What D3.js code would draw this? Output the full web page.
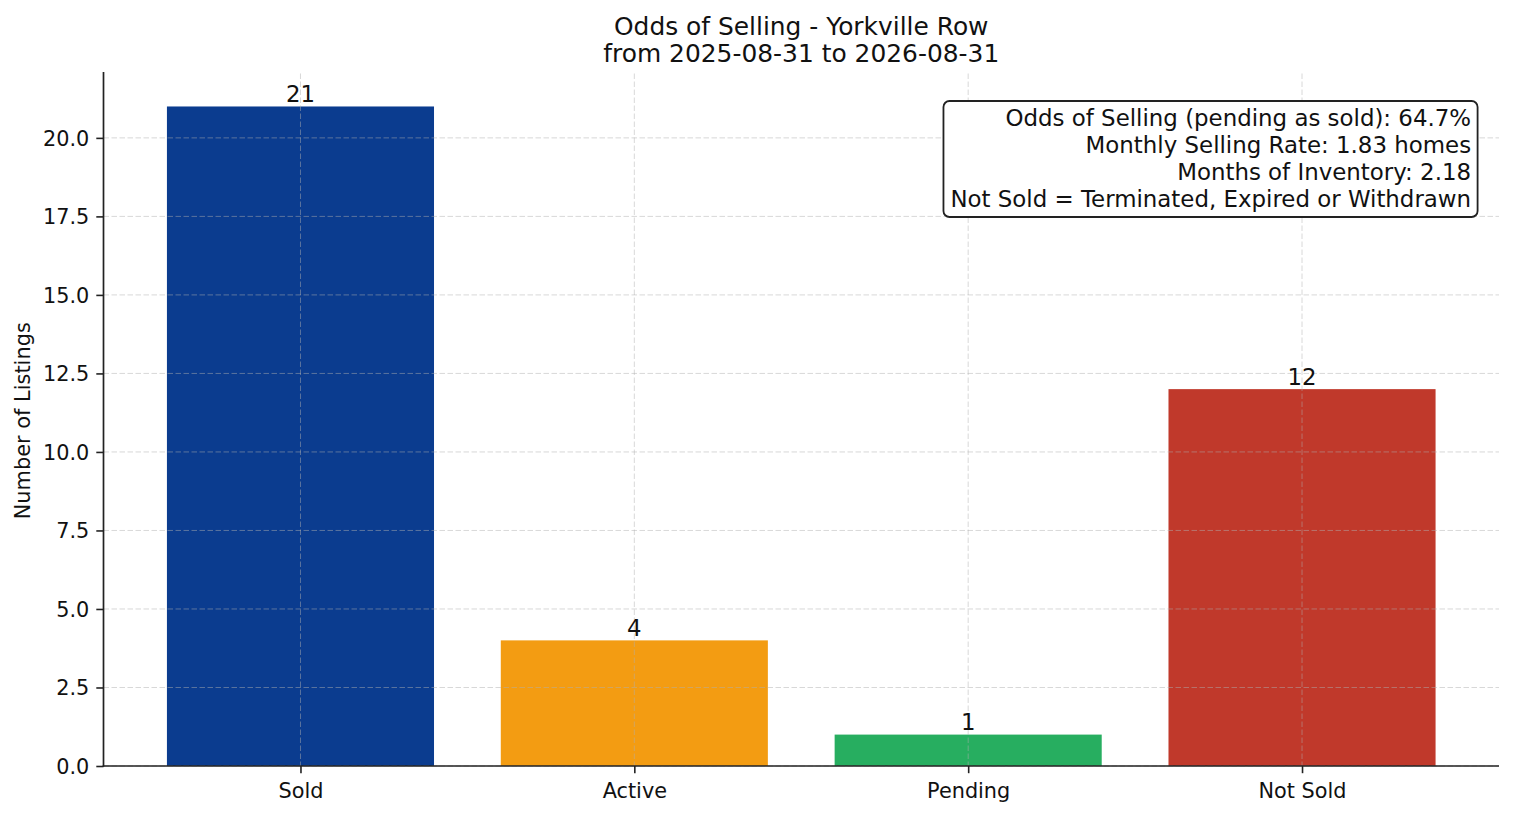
<!DOCTYPE html>
<html>
<head>
<meta charset="utf-8">
<script src="https://cdn.jsdelivr.net/npm/d3@7"></script>
<style>
  html, body { margin: 0; padding: 0; background: #fff; }
  svg { display: block; font-family: "DejaVu Sans", sans-serif; }
</style>
</head>
<body>
<svg id="chart" width="1514" height="816"></svg>
<script>
const categories = ["Sold", "Active", "Pending", "Not Sold"];
const counts = [21, 4, 1, 12];
const barColors = ["#0b3c8f", "#f39c12", "#27ae60", "#c0392b"];
const yTicks = [0, 2.5, 5, 7.5, 10, 12.5, 15, 17.5, 20];
const titleLines = ["Odds of Selling - Yorkville Row", "from 2025-08-31 to 2026-08-31"];
const yLabel = "Number of Listings";
const infoLines = [
  "Odds of Selling (pending as sold): 64.7%",
  "Monthly Selling Rate: 1.83 homes",
  "Months of Inventory: 2.18",
  "Not Sold = Terminated, Expired or Withdrawn"
];

(function () {
const svg = d3.select("#chart");
const pL = 103.5, pR = 1499, pT = 73.5, pB = 766;
const barW = 0.8;

const x = d3.scaleLinear().domain([-0.59, 3.59]).range([pL, pR]);
const y = d3.scaleLinear().domain([0, 22.05]).range([pB, pT]);

// bars
svg.append("g").selectAll("rect").data(counts).join("rect")
  .attr("x", (d, i) => x(i - barW / 2))
  .attr("width", (d, i) => x(i + barW / 2) - x(i - barW / 2))
  .attr("y", d => y(d))
  .attr("height", d => y(0) - y(d))
  .attr("fill", (d, i) => barColors[i]);

// grid (drawn above bars)
const grid = svg.append("g").attr("stroke", "#b0b0b0").attr("stroke-opacity", 0.55)
  .attr("stroke-width", 0.9).attr("stroke-dasharray", "5.5,2.5").attr("fill", "none");
grid.selectAll("line.h").data(yTicks).join("line").attr("class", "h")
  .attr("x1", pL).attr("x2", pR)
  .attr("y1", d => y(d)).attr("y2", d => y(d));
grid.selectAll("line.v").data(categories).join("line").attr("class", "v")
  .attr("x1", (d, i) => x(i)).attr("x2", (d, i) => x(i))
  .attr("y1", pT).attr("y2", pB);

// axes
const yAxis = d3.axisLeft(y).tickValues(yTicks).tickFormat(d3.format(".1f"))
  .tickSize(7.2).tickPadding(7);
const gy = svg.append("g").attr("transform", `translate(${pL},0)`).call(yAxis);
const xAxis = d3.axisBottom(x).tickValues(d3.range(categories.length))
  .tickFormat(i => categories[i]).tickSize(7.2).tickPadding(9);
const gx = svg.append("g").attr("transform", `translate(0,${pB})`).call(xAxis);

[gx, gy].forEach(g => {
  g.select(".domain").remove();
  g.selectAll(".tick line").attr("stroke", "#222").attr("stroke-width", 1.6);
  g.selectAll(".tick text").attr("fill", "#111").style("font-size", "20.8px")
    .style("font-family", "DejaVu Sans");
});
gy.selectAll(".tick text").attr("dy", "0.36em");
gx.selectAll(".tick text").attr("dy", "0.76em");

// spines
svg.append("line").attr("x1", pL).attr("x2", pL).attr("y1", pT - 1.5).attr("y2", pB + 0.8)
  .attr("stroke", "#222").attr("stroke-width", 1.7);
svg.append("line").attr("x1", pL - 0.8).attr("x2", pR).attr("y1", pB).attr("y2", pB)
  .attr("stroke", "#222").attr("stroke-width", 1.7);

// value labels
svg.append("g").selectAll("text").data(counts).join("text")
  .attr("x", (d, i) => x(i))
  .attr("y", d => y(d) - 4.5)
  .attr("text-anchor", "middle")
  .attr("fill", "#111")
  .style("font-size", "22.8px")
  .text(d => d);

// title
svg.append("g").selectAll("text").data(titleLines).join("text")
  .attr("x", (pL + pR) / 2)
  .attr("y", (d, i) => 35 + i * 26.8)
  .attr("text-anchor", "middle")
  .attr("fill", "#111")
  .style("font-size", "24.9px")
  .text(d => d);

// y label
svg.append("text")
  .attr("transform", `translate(30,${(pT + pB) / 2 + 1}) rotate(-90)`)
  .attr("text-anchor", "middle")
  .attr("fill", "#111")
  .style("font-size", "20.9px")
  .text(yLabel);

// info box
const info = svg.append("g");
const boxRect = info.append("rect");
const textX = pL + 0.98 * (pR - pL);
info.append("g").selectAll("text").data(infoLines).join("text")
  .attr("x", textX)
  .attr("y", (d, i) => 126 + i * 26.9)
  .attr("text-anchor", "end")
  .attr("fill", "#111")
  .style("font-size", "22.9px")
  .text(d => d);
const tb = info.node().getBBox();
const boxLeft = tb.x - 7, boxRight = textX + 6.5;
boxRect.attr("x", boxLeft).attr("y", 101)
  .attr("width", boxRight - boxLeft).attr("height", 116)
  .attr("rx", 6).attr("ry", 6)
  .attr("fill", "#fff").attr("stroke", "#222").attr("stroke-width", 1.8);
})();
</script>
</body>
</html>
